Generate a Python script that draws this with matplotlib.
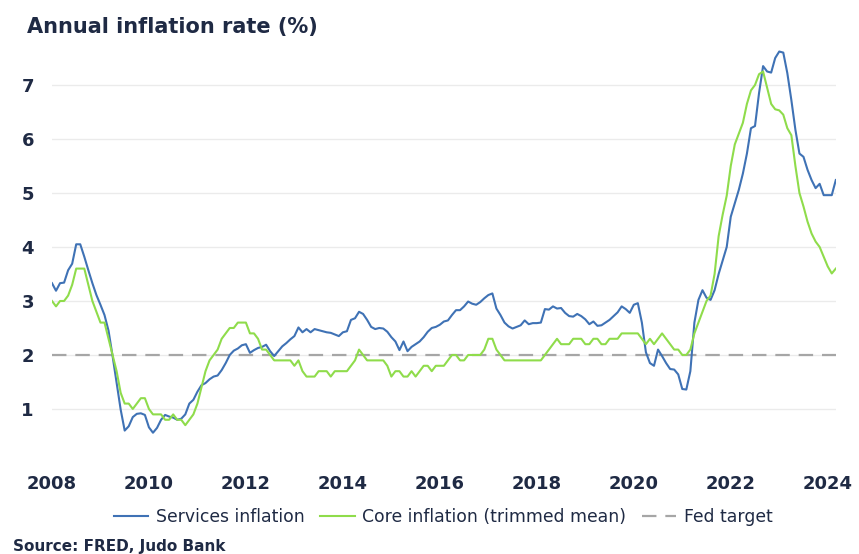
import matplotlib
matplotlib.use("Agg")
import matplotlib.pyplot as plt
import numpy as np

# Monthly data, Jan 2008 .. Mar 2024
start_year = 2008
services_inflation = [
    3.33, 3.19, 3.33, 3.34, 3.57, 3.69, 4.05, 4.05, 3.82, 3.57, 3.33, 3.11,  # 2008
    2.93, 2.74, 2.45, 1.98, 1.48, 0.99, 0.60, 0.68, 0.85, 0.91, 0.92, 0.89,  # 2009
    0.66, 0.56, 0.65, 0.80, 0.89, 0.86, 0.84, 0.80, 0.82, 0.90, 1.10, 1.17,  # 2010
    1.32, 1.44, 1.48, 1.55, 1.60, 1.62, 1.72, 1.85, 2.00, 2.08, 2.12, 2.18,  # 2011
    2.20, 2.04, 2.09, 2.13, 2.15, 2.19, 2.07, 1.98, 2.07, 2.16, 2.22, 2.29,  # 2012
    2.35, 2.51, 2.42, 2.48, 2.42, 2.48, 2.46, 2.44, 2.42, 2.41, 2.38, 2.35,  # 2013
    2.42, 2.44, 2.65, 2.68, 2.80, 2.76, 2.65, 2.52, 2.48, 2.50, 2.49, 2.43,  # 2014
    2.33, 2.25, 2.09, 2.25, 2.07, 2.15, 2.20, 2.25, 2.33, 2.43, 2.50, 2.52,  # 2015
    2.56, 2.62, 2.64, 2.74, 2.83, 2.83, 2.90, 2.99, 2.95, 2.93, 2.98, 3.05,  # 2016
    3.11, 3.14, 2.86, 2.74, 2.60, 2.53, 2.49, 2.52, 2.55, 2.64, 2.57, 2.59,  # 2017
    2.59, 2.60, 2.85, 2.84, 2.90, 2.86, 2.87, 2.78, 2.72, 2.71, 2.76, 2.72,  # 2018
    2.66, 2.57, 2.62, 2.54, 2.55, 2.60, 2.65, 2.72, 2.79, 2.90, 2.85, 2.78,  # 2019
    2.93, 2.96, 2.60, 2.05, 1.85, 1.80, 2.10, 1.98, 1.85, 1.74, 1.73, 1.64,  # 2020
    1.37, 1.36, 1.70, 2.60, 3.02, 3.20, 3.06, 3.02, 3.20, 3.50, 3.75, 4.00,  # 2021
    4.56, 4.81, 5.06, 5.36, 5.73, 6.20, 6.24, 6.85, 7.35, 7.25, 7.23, 7.50,  # 2022
    7.62, 7.60, 7.22, 6.72, 6.17, 5.73, 5.67, 5.43, 5.24, 5.09, 5.17, 4.96,  # 2023
    4.96, 4.96, 5.24,                                                        # 2024
]
core_trimmed_mean = [
    3.0, 2.9, 3.0, 3.0, 3.1, 3.3, 3.6, 3.6, 3.6, 3.3, 3.0, 2.8,
    2.6, 2.6, 2.3, 2.0, 1.7, 1.3, 1.1, 1.1, 1.0, 1.1, 1.2, 1.2,
    1.0, 0.9, 0.9, 0.9, 0.8, 0.8, 0.9, 0.8, 0.8, 0.7, 0.8, 0.9,
    1.1, 1.4, 1.7, 1.9, 2.0, 2.1, 2.3, 2.4, 2.5, 2.5, 2.6, 2.6,
    2.6, 2.4, 2.4, 2.3, 2.1, 2.1, 2.0, 1.9, 1.9, 1.9, 1.9, 1.9,
    1.8, 1.9, 1.7, 1.6, 1.6, 1.6, 1.7, 1.7, 1.7, 1.6, 1.7, 1.7,
    1.7, 1.7, 1.8, 1.9, 2.1, 2.0, 1.9, 1.9, 1.9, 1.9, 1.9, 1.8,
    1.6, 1.7, 1.7, 1.6, 1.6, 1.7, 1.6, 1.7, 1.8, 1.8, 1.7, 1.8,
    1.8, 1.8, 1.9, 2.0, 2.0, 1.9, 1.9, 2.0, 2.0, 2.0, 2.0, 2.1,
    2.3, 2.3, 2.1, 2.0, 1.9, 1.9, 1.9, 1.9, 1.9, 1.9, 1.9, 1.9,
    1.9, 1.9, 2.0, 2.1, 2.2, 2.3, 2.2, 2.2, 2.2, 2.3, 2.3, 2.3,
    2.2, 2.2, 2.3, 2.3, 2.2, 2.2, 2.3, 2.3, 2.3, 2.4, 2.4, 2.4,
    2.4, 2.4, 2.3, 2.2, 2.3, 2.2, 2.3, 2.4, 2.3, 2.2, 2.1, 2.1,
    2.0, 2.0, 2.1, 2.4, 2.6, 2.8, 3.0, 3.1, 3.5, 4.2, 4.6, 4.95,
    5.5, 5.9, 6.1, 6.3, 6.65, 6.9, 7.0, 7.2, 7.25, 6.95, 6.65, 6.55,
    6.53, 6.45, 6.2, 6.07, 5.5, 5.0, 4.75, 4.47, 4.25, 4.1, 4.0, 3.82,
    3.64, 3.51, 3.6,
]
fed_target = 2.0
tick_years = [2008, 2010, 2012, 2014, 2016, 2018, 2020, 2022, 2024]
y_ticks = [1, 2, 3, 4, 5, 6, 7]

months = np.arange(len(services_inflation))
target_line = [fed_target] * len(months)

text_color = "#1f2a44"
plt.rcParams["font.family"] = ["DejaVu Sans"]

fig = plt.figure(figsize=(8.59, 5.54), dpi=100)
ax = fig.add_axes([0.0605, 0.1643, 0.9125, 0.7505])

ax.plot(months, target_line, color="#a6a6a6", lw=1.6, dashes=(6.5, 4),
        label="Fed target", zorder=2)
ax.plot(months, services_inflation, color="#3f72b5", lw=1.5,
        label="Services inflation", zorder=3)
ax.plot(months, core_trimmed_mean, color="#8fdc4b", lw=1.5,
        label="Core inflation (trimmed mean)", zorder=3)

ax.set_xlim(0, len(months) - 1)
ax.set_ylim(0, 7.7)
ax.set_yticks(y_ticks)
ax.set_yticklabels([str(v) for v in y_ticks])
ax.set_xticks([(y - start_year) * 12 for y in tick_years])
ax.set_xticklabels([str(y) for y in tick_years])
ax.grid(axis="y", color="#ebebeb", lw=1)
ax.set_axisbelow(True)
for s in ax.spines.values():
    s.set_visible(False)
ax.tick_params(length=0, labelsize=13, labelcolor=text_color, pad=9)
ax.tick_params(axis="y", pad=13)
for lab in ax.get_xticklabels() + ax.get_yticklabels():
    lab.set_fontweight("bold")

fig.text(0.031, 0.951, "Annual inflation rate (%)", fontsize=15,
         fontweight="bold", color=text_color, va="center", ha="left")

handles, labels = ax.get_legend_handles_labels()
order = [1, 2, 0]
leg = fig.legend([handles[i] for i in order], [labels[i] for i in order],
                 loc="center", bbox_to_anchor=(0.516, 0.067), ncol=3,
                 frameon=False, fontsize=12.4, handlelength=2.0,
                 columnspacing=0.9, handletextpad=0.45)
for t in leg.get_texts():
    t.set_color(text_color)

fig.text(0.015, 0.014, "Source: FRED, Judo Bank", fontsize=11,
         fontweight="bold", color=text_color, va="center", ha="left")

fig.savefig("out.png", dpi=100)
